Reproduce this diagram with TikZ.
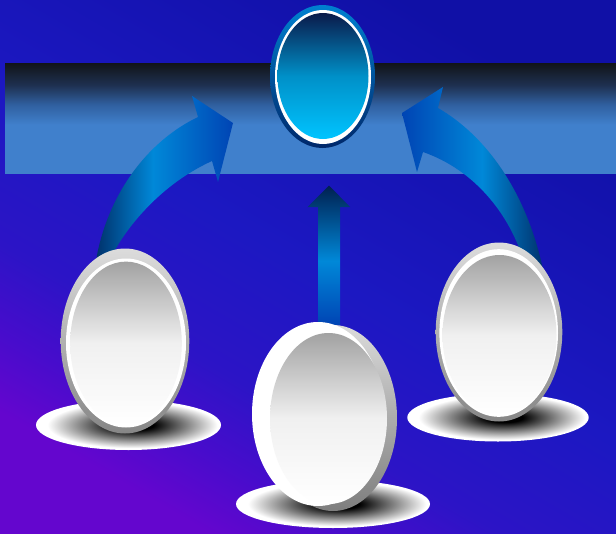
\documentclass[tikz,border=0pt]{standalone}
\definecolor{bgtop}{HTML}{1010A6}
\definecolor{bgmid}{HTML}{1C18C2}
\definecolor{bgmidb}{HTML}{2C14C6}
\definecolor{bgmidc}{HTML}{480CCC}
\definecolor{bgbot}{HTML}{6406CE}
\definecolor{bandblue}{HTML}{4080CC}
\definecolor{bandmidb}{HTML}{3060A0}
\definecolor{bandmida}{HTML}{1E3050}
\definecolor{banddark}{HTML}{111418}
\definecolor{adark}{HTML}{00306A}
\definecolor{abright}{HTML}{0088D8}
\definecolor{ablue}{HTML}{0044B4}
\definecolor{anavy}{HTML}{002050}
\definecolor{tring1}{HTML}{0080D0}
\definecolor{tring2}{HTML}{00286A}
\definecolor{tface1}{HTML}{0A1A4A}
\definecolor{tface2}{HTML}{0090C8}
\definecolor{tface3}{HTML}{00C4FF}
\definecolor{ringtop}{HTML}{DCDCDC}
\definecolor{ringbot}{HTML}{868686}
\definecolor{facetop}{HTML}{A2A2A2}
\definecolor{facemid}{HTML}{F0F0F0}
\definecolor{facebot}{HTML}{FFFFFF}
\definecolor{midrim1}{HTML}{DADADA}
\definecolor{midrim2}{HTML}{7E7E7E}
\pgfdeclareverticalshading{bgshade}{100bp}{color(0bp)=(bgbot); color(25bp)=(bgbot); color(31bp)=(bgmidc); color(38bp)=(bgmidb); color(50bp)=(bgmid); color(75bp)=(bgtop); color(100bp)=(bgtop)}
\pgfdeclareverticalshading{bandshade}{100bp}{color(0bp)=(bandblue); color(47bp)=(bandblue); color(56bp)=(bandmidb); color(65bp)=(bandmida); color(75bp)=(banddark); color(100bp)=(banddark)}
\pgfdeclarehorizontalshading{larrow}{100bp}{color(0bp)=(adark); color(25bp)=(adark); color(46bp)=(abright); color(75bp)=(ablue); color(100bp)=(ablue)}
\pgfdeclarehorizontalshading{rarrow}{100bp}{color(0bp)=(ablue); color(25bp)=(ablue); color(53bp)=(abright); color(75bp)=(adark); color(100bp)=(adark)}
\pgfdeclareverticalshading{carrow}{100bp}{color(0bp)=(ablue); color(25bp)=(ablue); color(48bp)=(abright); color(75bp)=(anavy); color(100bp)=(anavy)}
\pgfdeclareradialshading{shadowshade}{\pgfpoint{2bp}{0bp}}{color(0bp)=(black); color(5bp)=(black); color(23bp)=(white); color(50bp)=(white)}
\tikzset{
  eggring/.style={top color=ringtop, bottom color=ringbot},
  eggface/.style={top color=facetop, bottom color=facebot, middle color=facemid},
  shadowfill/.style={shading=shadowshade}
}
\begin{document}
\begin{tikzpicture}[x=1pt,y=-1pt,line join=round]
\useasboundingbox (0,0) rectangle (616,533);
% background
\shade[shading=bgshade, shading angle=-30] (0,0) rectangle (616,533);
% band
\shade[shading=bandshade] (5,63) rectangle (616,173);
% central arrow
\shade[shading=carrow] (318,325) -- (318,207) -- (307.5,207) -- (329,185.5) -- (350,207) -- (340,207) -- (340,325) -- cycle;
% left arrow
\shade[shading=larrow] (95,270) -- (97,255) .. controls (110,190) and (150,140) .. (198,117) -- (192,96) -- (233,123) -- (218,182) -- (212,161) .. controls (170,180) and (135,215) .. (115,250) -- (113,268) -- cycle;
% right arrow
\shade[shading=rarrow] (545,280) -- (542,265) .. controls (525,190) and (485,135) .. (438,108) -- (443,87) -- (402,113) -- (417,172) -- (423,152) .. controls (475,170) and (510,215) .. (524,262) -- (526,280) -- cycle;
% top ellipse
\shade[top color=tring1, bottom color=tring2] (322.5,76.5) ellipse [x radius=52.5, y radius=71.5];
\fill[white] (323,77) ellipse [x radius=48, y radius=67];
\shade[top color=tface1, bottom color=tface3, middle color=tface2] (323,76) ellipse [x radius=45.5, y radius=63];
% left egg
\shade[shadowfill] (128.5,425) ellipse [x radius=92.5, y radius=25];
\shade[eggring] (125,341) ellipse [x radius=64.3, y radius=92.5];
\fill[white] (126,343) ellipse [x radius=60, y radius=84.5];
\shade[eggface] (126,343.3) ellipse [x radius=55.8, y radius=81.7];
% right egg
\shade[shadowfill] (498,417.5) ellipse [x radius=90.7, y radius=24];
\shade[eggring] (499,332) ellipse [x radius=63.3, y radius=89.5];
\fill[white] (498.7,333) ellipse [x radius=59.3, y radius=83.8];
\shade[eggface] (499.5,335) ellipse [x radius=57, y radius=80];
% middle egg
\shade[shadowfill] (333,504) ellipse [x radius=97, y radius=24];
\shade[top color=midrim1, bottom color=midrim2] (333,418) ellipse [x radius=64, y radius=93];
\fill[white] (318,414) ellipse [x radius=66, y radius=92];
\shade[eggface] (328.5,418.5) ellipse [x radius=58.5, y radius=85.5];
\end{tikzpicture}
\end{document}
